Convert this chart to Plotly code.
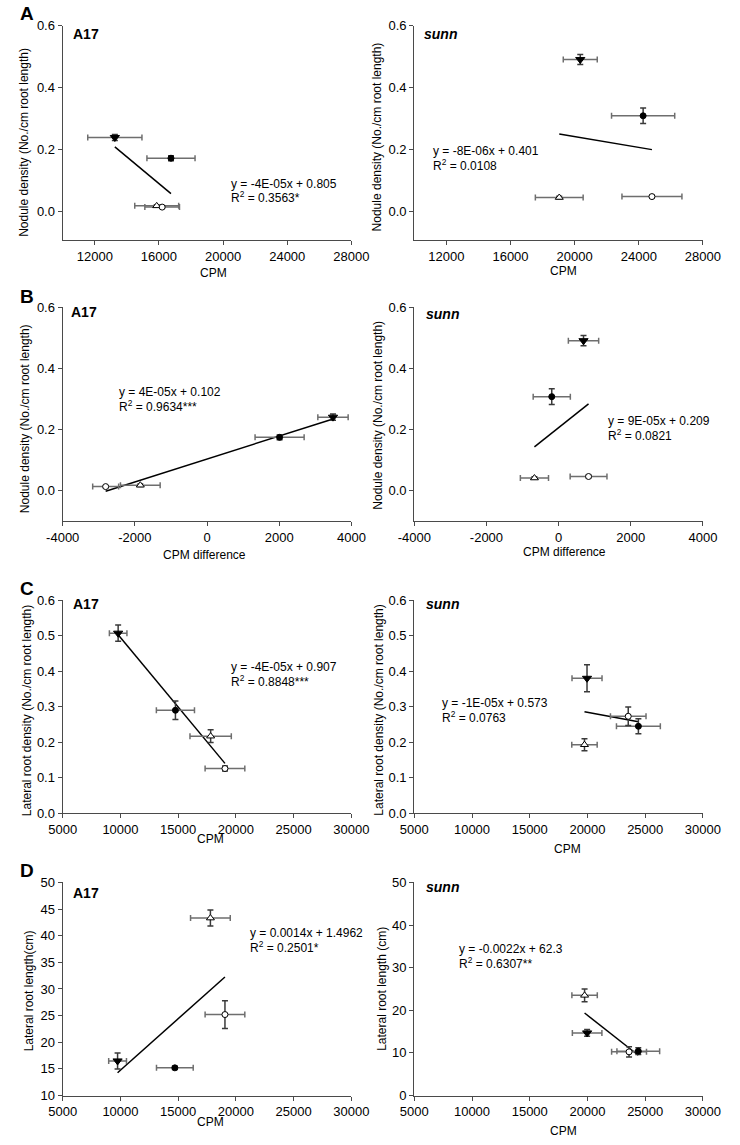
import numpy as np
import plotly.graph_objects as go

# ---- data ----
# point order in every panel: filled down-triangle, filled circle, open up-triangle, open circle
a17_nod_cpm = [13250, 16750, 15860, 16200]
a17_nod_cpm_err = [1690, 1500, 1370, 1080]
a17_nod = [0.239, 0.172, 0.018, 0.014]
a17_nod_err = [0.010, 0.008, 0.004, 0.004]

sunn_nod_cpm = [20350, 24270, 19040, 24820]
sunn_nod_cpm_err = [1060, 1970, 1490, 1870]
sunn_nod = [0.491, 0.309, 0.045, 0.048]
sunn_nod_err = [0.016, 0.025, 0.004, 0.004]

a17_diff = [3490, 2010, -1850, -2810]
a17_diff_err = [420, 680, 550, 360]
a17_nod_b = [0.240, 0.174, 0.0175, 0.013]
a17_nod_b_err = [0.010, 0.008, 0.004, 0.003]

sunn_diff = [690, -190, -670, 830]
sunn_diff_err = [420, 515, 390, 510]
sunn_nod_b = [0.490, 0.307, 0.041, 0.046]
sunn_nod_b_err = [0.017, 0.026, 0.004, 0.004]

a17_lr_cpm = [9800, 14760, 17810, 19050]
a17_lr_cpm_err = [760, 1650, 1790, 1720]
a17_lrd = [0.507, 0.290, 0.217, 0.126]
a17_lrd_err = [0.023, 0.026, 0.018, 0.007]

sunn_lr_cpm = [19960, 24410, 19740, 23530]
sunn_lr_cpm_err = [1300, 1900, 1100, 1540]
sunn_lrd = [0.380, 0.245, 0.193, 0.273]
sunn_lrd_err = [0.038, 0.021, 0.017, 0.026]

a17_len_cpm = [9750, 14710, 17790, 19050]
a17_len_cpm_err = [770, 1590, 1720, 1720]
a17_len = [16.5, 15.2, 43.3, 25.2]
a17_len_err = [1.5, 0.3, 1.5, 2.6]

sunn_len_cpm = [19970, 24400, 19750, 23600]
sunn_len_cpm_err = [1280, 1850, 1100, 1510]
sunn_len = [14.7, 10.4, 23.5, 10.25]
sunn_len_err = [0.8, 0.8, 1.5, 1.2]

equations = [
    ('y = -4E-05x + 0.805', 'R<sup>2</sup> = 0.3563*'),
    ('y = -8E-06x + 0.401', 'R<sup>2</sup> = 0.0108'),
    ('y = 4E-05x + 0.102', 'R<sup>2</sup> = 0.9634***'),
    ('y = 9E-05x + 0.209', 'R<sup>2</sup> = 0.0821'),
    ('y = -4E-05x + 0.907', 'R<sup>2</sup> = 0.8848***'),
    ('y = -1E-05x + 0.573', 'R<sup>2</sup> = 0.0763'),
    ('y = 0.0014x + 1.4962', 'R<sup>2</sup> = 0.2501*'),
    ('y = -0.0022x + 62.3', 'R<sup>2</sup> = 0.6307**'),
]
genotypes = ['<b>A17</b>', '<b><i>sunn</i></b>'] * 4
panel_letters = ['A', 'B', 'C', 'D']
x_titles = ['CPM', 'CPM', 'CPM difference', 'CPM difference', 'CPM', 'CPM', 'CPM', 'CPM']
y_titles = ['Nodule density (No./cm root length)'] * 4 + \
           ['Lateral root density (No./cm root length)'] * 2 + \
           ['Lateral root length(cm)', 'Lateral root length (cm)']

panels = [
    (a17_nod_cpm, a17_nod_cpm_err, a17_nod, a17_nod_err),
    (sunn_nod_cpm, sunn_nod_cpm_err, sunn_nod, sunn_nod_err),
    (a17_diff, a17_diff_err, a17_nod_b, a17_nod_b_err),
    (sunn_diff, sunn_diff_err, sunn_nod_b, sunn_nod_b_err),
    (a17_lr_cpm, a17_lr_cpm_err, a17_lrd, a17_lrd_err),
    (sunn_lr_cpm, sunn_lr_cpm_err, sunn_lrd, sunn_lrd_err),
    (a17_len_cpm, a17_len_cpm_err, a17_len, a17_len_err),
    (sunn_len_cpm, sunn_len_cpm_err, sunn_len, sunn_len_err),
]

x_ticks = [list(range(12000, 28001, 4000))] * 2 + [list(range(-4000, 4001, 2000))] * 2 + \
          [list(range(5000, 30001, 5000))] * 4
y_ticks = [[0, 0.2, 0.4, 0.6]] * 4 + [[0, 0.1, 0.2, 0.3, 0.4, 0.5, 0.6]] * 2 + \
          [list(range(10, 51, 5)), list(range(0, 51, 10))]
y_fmt = ['{:.1f}'] * 6 + ['{:d}', '{:d}']

# ---- layout geometry (pixels in a 740 x 1145 page) ----
W, H = 740, 1145
def px(x):
    return x / W
def py(y):
    return 1 - y / H

col_px = [(48, 351), (417, 720)]
row_px = [(19, 236), (304, 521), (601, 817), (887, 1103)]

x_ranges = [[10000, 28000]] * 2 + [[-4000, 4000]] * 2 + [[5000, 30000]] * 4
y_ranges = [[-0.092, 0.6]] * 2 + [[-0.1, 0.6]] * 2 + [[0, 0.6]] * 2 + [[10, 50], [0, 50]]

eq_pos = [(222.7, 179), (435, 145.7), (105, 390), (618.3, 420),
          (222.7, 669), (444, 705), (242.3, 938.3), (461.7, 955)]
geno_pos = [(57, 27), (425, 27), (55, 309), (427, 311),
            (57, 605), (427, 605), (57, 898), (427, 892)]
xt_pos = [(206, 270), (574, 267), (197, 555), (575, 552),
          (203, 843), (578, 853), (203, 1130), (574, 1139)]
yt_pos = [(8, 137), (378, 132), (8, 417), (378, 414),
          (10, 713), (380, 713), (13, 997), (383, 995)]
letter_pos = [(1, 7), (1, 293), (1, 589), (1, 875)]

FONT = 'Arial, Liberation Sans, sans-serif'
axis_col = '#4a4a4a'

symbols = ['triangle-down', 'circle', 'triangle-up', 'circle']
fills = ['black', 'black', 'white', 'white']
sizes = [8, 6, 7, 6]

fig = go.Figure()
annotations = []

for i, (xv, xe, yv, ye) in enumerate(panels):
    n = '' if i == 0 else str(i + 1)
    xa, ya = 'x' + n, 'y' + n

    # Excel-style linear trendline fitted to the plotted means
    slope, icpt = np.polyfit(xv, yv, 1)
    xl = np.array([min(xv), max(xv)])
    fig.add_trace(go.Scatter(x=xl, y=slope * xl + icpt, mode='lines',
                             line=dict(color='black', width=1.5),
                             xaxis=xa, yaxis=ya, showlegend=False, hoverinfo='skip'))

    fig.add_trace(go.Scatter(
        x=xv, y=yv, mode='markers', xaxis=xa, yaxis=ya, showlegend=False,
        marker=dict(symbol=symbols, color=fills, size=sizes, opacity=1,
                    line=dict(color='black', width=1)),
        error_x=dict(type='data', array=xe, color='#6e6e6e', thickness=1.5, width=3),
        error_y=dict(type='data', array=ye, color='#3a3a3a', thickness=1.5, width=3),
    ))

    c, r = i % 2, i // 2
    axis_common = dict(showline=True, linecolor=axis_col, linewidth=1.3,
                       ticks='outside', ticklen=4, tickcolor=axis_col,
                       showgrid=False, zeroline=False,
                       tickfont=dict(size=13, color='black', family=FONT))
    fig.layout['xaxis' + n] = dict(domain=[px(col_px[c][0]), px(col_px[c][1])],
                                   range=x_ranges[i], tickvals=x_ticks[i],
                                   ticktext=[str(v) for v in x_ticks[i]],
                                   anchor=ya, **axis_common)
    fig.layout['yaxis' + n] = dict(domain=[py(row_px[r][1]), py(row_px[r][0])],
                                   range=y_ranges[i], tickvals=y_ticks[i],
                                   ticktext=[y_fmt[i].format(v) for v in y_ticks[i]],
                                   anchor=xa, **axis_common)

    ex, ey = eq_pos[i]
    for k, line in enumerate(equations[i]):
        annotations.append(dict(text=line, x=px(ex), y=py(ey + 14 * k), xref='paper', yref='paper',
                                xanchor='left', yanchor='middle', showarrow=False,
                                font=dict(size=12, color='black', family=FONT)))
    gx, gy = geno_pos[i]
    annotations.append(dict(text=genotypes[i], x=px(gx), y=py(gy), xref='paper', yref='paper',
                            xanchor='left', yanchor='middle', showarrow=False,
                            font=dict(size=14, color='black', family=FONT)))
    tx, ty = xt_pos[i]
    annotations.append(dict(text=x_titles[i], x=px(tx), y=py(ty), xref='paper', yref='paper',
                            xanchor='center', yanchor='middle', showarrow=False,
                            font=dict(size=12, color='black', family=FONT)))
    vx, vy = yt_pos[i]
    annotations.append(dict(text=y_titles[i], x=px(vx), y=py(vy), xref='paper', yref='paper',
                            xanchor='center', yanchor='middle', textangle=-90, showarrow=False,
                            font=dict(size=12, color='black', family=FONT)))

for letter, (lx, ly) in zip(panel_letters, letter_pos):
    annotations.append(dict(text='<b>' + letter + '</b>', x=px(lx), y=py(ly), xref='paper', yref='paper',
                            xanchor='left', yanchor='middle', showarrow=False,
                            font=dict(size=19, color='black', family=FONT)))

fig.update_layout(width=W, height=H, margin=dict(l=0, r=0, t=0, b=0),
                  paper_bgcolor='white', plot_bgcolor='white',
                  font=dict(family=FONT, color='black'),
                  annotations=annotations)

# drop the browser's default page margin so the figure sits at the window origin
fig.write_html('out.html', config={'displayModeBar': False},
               post_script="document.body.style.margin='0';document.body.style.overflow='hidden';")
